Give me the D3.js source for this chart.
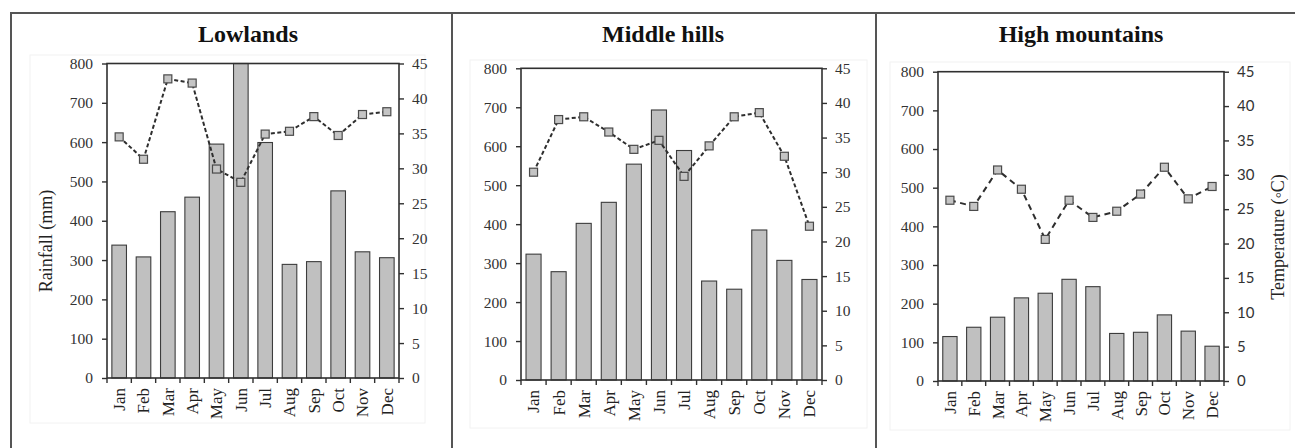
<!DOCTYPE html>
<html>
<head>
<meta charset="utf-8">
<script src="https://cdn.jsdelivr.net/npm/d3@7"></script>
<style>
  html, body { margin: 0; padding: 0; background: #fff; }
  svg { display: block; }
</style>
</head>
<body>
<svg id="chart" width="1295" height="448"></svg>
<script>
// Monthly rainfall (bars, mm) and temperature (dashed line, °C) by region
const months = ["Jan", "Feb", "Mar", "Apr", "May", "Jun", "Jul", "Aug", "Sep", "Oct", "Nov", "Dec"];

const rainLowlands = [338, 308, 423, 460, 595, 800, 599, 289, 296, 476, 321, 306];
const tempLowlands = [34.5, 31.3, 42.8, 42.2, 29.9, 28.0, 34.9, 35.3, 37.4, 34.7, 37.7, 38.1];

const rainMiddleHills = [323, 278, 402, 456, 554, 693, 589, 254, 233, 385, 307, 258];
const tempMiddleHills = [30.0, 37.6, 38.0, 35.8, 33.3, 34.6, 29.4, 33.8, 38.0, 38.6, 32.3, 22.2];

const rainHighMountains = [115, 139, 165, 215, 227, 263, 244, 123, 126, 171, 129, 90];
const tempHighMountains = [26.3, 25.4, 30.7, 27.9, 20.6, 26.3, 23.8, 24.7, 27.2, 31.1, 26.5, 28.3];

const rainTicks = [0, 100, 200, 300, 400, 500, 600, 700, 800];
const tempTicks = [0, 5, 10, 15, 20, 25, 30, 35, 40, 45];

const titles = ["Lowlands", "Middle hills", "High mountains"];
const rainLabel = "Rainfall (mm)";
const tempLabel = "Temperature (\u25E6C)";

// Layout of the three panels
const layout = [
  { x0: 107, x1: 399, y0: 63.5, y1: 378, titleX: 248, bg: [30, 55, 395, 368], dash: "4,2.5", rightFont: "serif" },
  { x0: 521, x1: 822, y0: 68.3, y1: 380, titleX: 663, bg: [470, 60, 397, 368], dash: "4,2.5", rightFont: "serif" },
  { x0: 938, x1: 1224, y0: 71.7, y1: 381, titleX: 1081, bg: [890, 62, 400, 368], dash: "6,4.5", rightFont: "sans" }
];

const series = [
  { rain: rainLowlands, temp: tempLowlands },
  { rain: rainMiddleHills, temp: tempMiddleHills },
  { rain: rainHighMountains, temp: tempHighMountains }
];

const SERIF = "'Liberation Serif', 'Times New Roman', serif";
const SANS = "Lato, 'Open Sans', sans-serif";
const AXIS = "#303030";

const svg = d3.select("#chart");

// Panel frames: top rule and vertical separators
const frame = svg.append("g").attr("stroke", "#555").attr("stroke-width", 2).attr("fill", "none");
frame.append("line").attr("x1", 10).attr("x2", 1295).attr("y1", 13).attr("y2", 13);
[11, 452, 876].forEach(x => {
  frame.append("line").attr("x1", x).attr("x2", x).attr("y1", 13).attr("y2", 448);
});

layout.forEach((L, i) => {
  const d = series[i];
  const g = svg.append("g");

  // faint chart-area box
  g.append("rect")
    .attr("x", L.bg[0]).attr("y", L.bg[1]).attr("width", L.bg[2]).attr("height", L.bg[3])
    .attr("fill", "#fff").attr("stroke", "#f2f2f2").attr("stroke-width", 1);

  const x = d3.scaleBand().domain(months).range([L.x0, L.x1]).paddingInner(0.4).paddingOuter(0.2);
  const slot = d3.scaleLinear().domain([0, months.length]).range([L.x0, L.x1]);
  const yR = d3.scaleLinear().domain([0, 800]).range([L.y1, L.y0]);
  const yT = d3.scaleLinear().domain([0, 45]).range([L.y1, L.y0]);

  // bars
  g.append("g").selectAll("rect")
    .data(d.rain)
    .join("rect")
    .attr("x", (v, j) => x(months[j]))
    .attr("y", v => yR(v))
    .attr("width", x.bandwidth())
    .attr("height", v => yR(0) - yR(v))
    .attr("fill", "#c0c0c0")
    .attr("stroke", "#3c3c3c")
    .attr("stroke-width", 1.1);

  // plot frame
  g.append("rect")
    .attr("x", L.x0).attr("y", L.y0)
    .attr("width", L.x1 - L.x0).attr("height", L.y1 - L.y0)
    .attr("fill", "none").attr("stroke", AXIS).attr("stroke-width", 1.6);

  // left axis
  const leftAxis = g.append("g")
    .attr("transform", `translate(${L.x0},0)`)
    .call(d3.axisLeft(yR).tickValues(rainTicks).tickSize(5).tickPadding(9).tickFormat(d3.format("d")));
  leftAxis.select(".domain").remove();
  leftAxis.selectAll("line").attr("stroke", AXIS).attr("stroke-width", 1.4);
  leftAxis.selectAll("text").attr("font-family", SERIF).attr("font-size", 15.5).attr("fill", "#333");

  // right axis
  const rightAxis = g.append("g")
    .attr("transform", `translate(${L.x1},0)`)
    .call(d3.axisRight(yT).tickValues(tempTicks).tickSize(5).tickPadding(8).tickFormat(d3.format("d")));
  rightAxis.select(".domain").remove();
  rightAxis.selectAll("line").attr("stroke", AXIS).attr("stroke-width", 1.4);
  rightAxis.selectAll("text")
    .attr("font-family", L.rightFont === "sans" ? SANS : SERIF)
    .attr("font-size", L.rightFont === "sans" ? 15 : 15.5)
    .attr("fill", "#333");

  // x ticks at month boundaries
  g.append("g").selectAll("line")
    .data(d3.range(months.length + 1))
    .join("line")
    .attr("x1", k => slot(k)).attr("x2", k => slot(k))
    .attr("y1", L.y1).attr("y2", L.y1 + 5)
    .attr("stroke", AXIS).attr("stroke-width", 1.4);

  // month labels, rotated
  g.append("g").selectAll("text")
    .data(months)
    .join("text")
    .attr("transform", m => `translate(${x(m) + x.bandwidth() / 2},${L.y1 + 10}) rotate(-90)`)
    .attr("text-anchor", "end")
    .attr("dy", "0.35em")
    .attr("font-family", SERIF)
    .attr("font-size", 17)
    .attr("fill", "#222")
    .text(m => m);

  // temperature line
  const line = d3.line()
    .x((v, j) => x(months[j]) + x.bandwidth() / 2)
    .y(v => yT(v));
  g.append("path")
    .datum(d.temp)
    .attr("d", line)
    .attr("fill", "none")
    .attr("stroke", "#2e2e2e")
    .attr("stroke-width", 2)
    .attr("stroke-dasharray", L.dash);

  // temperature markers
  const s = 8;
  g.append("g").selectAll("rect")
    .data(d.temp)
    .join("rect")
    .attr("x", (v, j) => x(months[j]) + x.bandwidth() / 2 - s / 2)
    .attr("y", v => yT(v) - s / 2)
    .attr("width", s).attr("height", s)
    .attr("fill", "#c4c4c4")
    .attr("stroke", "#4a4a4a")
    .attr("stroke-width", 1.2);

  // title
  g.append("text")
    .attr("x", L.titleX).attr("y", 42)
    .attr("text-anchor", "middle")
    .attr("font-family", SERIF)
    .attr("font-weight", "bold")
    .attr("font-size", 24)
    .attr("fill", "#111")
    .text(titles[i]);
});

// axis titles
svg.append("text")
  .attr("transform", "translate(46,241) rotate(-90)")
  .attr("text-anchor", "middle")
  .attr("dy", "0.35em")
  .attr("font-family", SERIF)
  .attr("font-size", 18)
  .attr("fill", "#222")
  .text(rainLabel);

svg.append("text")
  .attr("transform", "translate(1278,237) rotate(-90)")
  .attr("text-anchor", "middle")
  .attr("dy", "0.35em")
  .attr("font-family", SERIF)
  .attr("font-size", 18)
  .attr("fill", "#222")
  .text(tempLabel);
</script>
</body>
</html>
